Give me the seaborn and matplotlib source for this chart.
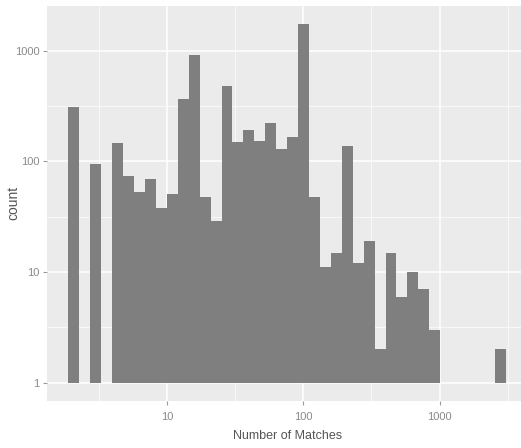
import numpy as np
import seaborn as sns
import matplotlib.pyplot as plt

# histogram of matches per item, 40 log10-spaced bins
bin_log_range = (0.277, 3.485)
n_bins = 40
counts = [312, 0, 94, 0, 145, 74, 53, 69, 38, 51,
          366, 913, 48, 29, 476, 148, 192, 152, 221, 129,
          167, 1738, 48, 11, 15, 136, 12, 19, 2, 15,
          6, 10, 7, 3, 0, 0, 0, 0, 0, 2]
x_ticks = [10, 100, 1000]
y_ticks = [1, 10, 100, 1000]

edges = np.logspace(bin_log_range[0], bin_log_range[1], n_bins + 1)
centers = np.sqrt(edges[:-1] * edges[1:])

sns.set_theme(style="darkgrid", rc={
    "axes.facecolor": "#EBEBEB",
    "grid.color": "white",
})
plt.rcParams['font.family'] = ['Liberation Sans Narrow', 'Liberation Sans', 'DejaVu Sans']

fig = plt.figure(figsize=(5.21, 4.48), dpi=100)
ax = fig.add_axes([0.0896, 0.1056, 0.923, 0.881])

sns.histplot(x=centers, weights=counts, bins=n_bins, binrange=bin_log_range,
             log_scale=True, color='#7f7f7f', alpha=1, edgecolor='none',
             linewidth=0, ax=ax)
ax.set_yscale('log')

# ggplot draws log-count bars up from 1, not from 0
for p in ax.patches:
    h = p.get_height()
    p.set_y(1)
    p.set_height(max(h - 1, 0))

ax.set_xlim(10 ** 0.117, 10 ** 3.645)
ax.set_ylim(10 ** -0.162, 10 ** 3.402)

ax.set_xticks(x_ticks, [str(t) for t in x_ticks])
ax.set_yticks(y_ticks, [str(t) for t in y_ticks])
ax.set_xticks([10 ** 0.5, 10 ** 1.5, 10 ** 2.5, 10 ** 3.5], minor=True)
ax.set_yticks([10 ** 0.5, 10 ** 1.5, 10 ** 2.5], minor=True)
ax.set_xticklabels([], minor=True)
ax.set_yticklabels([], minor=True)

ax.grid(which='major', color='white', linewidth=1.1)
ax.grid(which='minor', color='white', linewidth=0.5)
ax.set_axisbelow(True)
for s in ax.spines.values():
    s.set_visible(False)

ax.tick_params(which='major', length=3, width=0.8, color='#9a9a9a',
               labelsize=8, labelcolor='#8a8a8a', bottom=True, left=True)
ax.tick_params(axis='x', which='major', pad=5)
ax.tick_params(axis='y', which='major', pad=2)
ax.tick_params(which='minor', length=0)

ax.set_xlabel('Number of Matches', fontsize=9, color='#555555', va='center')
ax.set_ylabel('count', fontsize=10, color='#555555', va='center')
ax.xaxis.set_label_coords(0.5, -0.089)
ax.yaxis.set_label_coords(-0.0695, 0.5)

plt.savefig('out.png', dpi=100)
